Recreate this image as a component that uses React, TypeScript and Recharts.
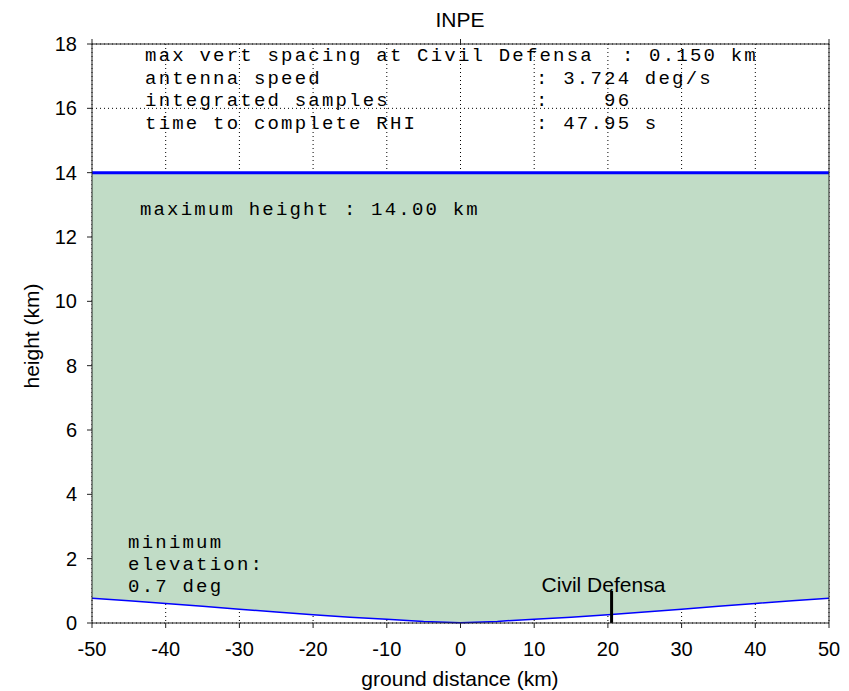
import React from 'react'
import {
  ComposedChart, Area, Line, XAxis, YAxis, CartesianGrid, ReferenceLine, ReferenceDot, Customized,
} from 'recharts'

// ground distance (km) and height of the lowest beam (km)
const distanceKm = [-50, -45, -40, -35, -30, -25, -20, -15, -10, -5, 0, 5, 10, 15, 20, 25, 30, 35, 40, 45, 50]
const minBeamKm = [0.77, 0.69, 0.61, 0.52, 0.43, 0.34, 0.26, 0.18, 0.12, 0.05, 0.01, 0.05, 0.12, 0.18, 0.26, 0.34, 0.43, 0.52, 0.61, 0.69, 0.77]
const maxHeightKm = 14
const minElevationDeg = 0.7

const xTicks = [-50, -40, -30, -20, -10, 0, 10, 20, 30, 40, 50]
const yTicks = [0, 2, 4, 6, 8, 10, 12, 14, 16, 18]

const siteName = 'Civil Defensa'
const siteKm = 20.5
const siteMarkKm = 1.0

const statLabels = ['max vert spacing at Civil Defensa', 'antenna speed', 'integrated samples', 'time to complete RHI']
const statValues = [': 0.150 km', ': 3.724 deg/s', ':    96', ': 47.95 s']

const data = distanceKm.map((x, i) => ({ x, low: minBeamKm[i], range: [minBeamKm[i], maxHeightKm] }))

const SANS = 'Liberation Sans, Arial, sans-serif'
const MONO = 'Liberation Mono, Courier New, monospace'
const FILL = '#c1dcc6'
const BLUE = '#0000ff'
const AXIS = '#222'

const monoStyle: React.CSSProperties = { whiteSpace: 'pre' }

// text anchored at a data point (via ReferenceDot shape)
function txt(text: string, opts: { mono?: boolean; anchor?: 'start' | 'middle' } = {}) {
  return (p: any) => (
    <text
      x={p.cx}
      y={p.cy}
      textAnchor={opts.anchor || 'start'}
      fontFamily={opts.mono ? MONO : SANS}
      fontSize={opts.mono ? 19 : 21}
      letterSpacing={opts.mono ? 2.2 : 0}
      fill="#000"
      style={monoStyle}
    >
      {text}
    </text>
  )
}

const Titles = () => (
  <g fontFamily={SANS} fontSize={21} fill="#000">
    <text x={460} y={27} textAnchor="middle">INPE</text>
    <text x={460} y={686} textAnchor="middle">ground distance (km)</text>
    <text x={0} y={0} textAnchor="middle" transform="translate(39,336) rotate(-90)">height (km)</text>
  </g>
)

export default function App() {
  const statRowKm = [17.47, 16.76, 16.07, 15.36]
  const elevLines = ['minimum', 'elevation:', `${minElevationDeg.toFixed(1)} deg`]
  const elevRowKm = [2.33, 1.65, 0.96]
  return (
    <div style={{ position: 'absolute', left: 0, top: 0, background: '#fff' }}>
      <ComposedChart width={849} height={691} data={data} margin={{ top: 38, right: 14, bottom: 0, left: 0 }}>
        <CartesianGrid
          xAxisId="bottom"
          yAxisId="left"
          stroke="#000"
          strokeDasharray="1 3"
          verticalValues={xTicks}
          horizontalValues={yTicks}
        />
        <XAxis
          xAxisId="bottom" dataKey="x" type="number" domain={[-50, 50]} ticks={xTicks}
          height={68} tickSize={5} tickMargin={14}
          stroke={AXIS} tick={{ fill: '#000', fontFamily: SANS, fontSize: 20 }}
        />
        <XAxis
          xAxisId="top" orientation="top" type="number" domain={[-50, 50]} ticks={xTicks}
          height={6} tickSize={5} tickFormatter={() => ''} stroke={AXIS}
        />
        <YAxis
          yAxisId="left" type="number" domain={[0, 18]} ticks={yTicks} width={92}
          tickSize={5} tickMargin={10} interval={0}
          stroke={AXIS} tick={{ fill: '#000', fontFamily: SANS, fontSize: 20 }}
        />
        <YAxis
          yAxisId="right" orientation="right" type="number" domain={[0, 18]} ticks={yTicks} width={6}
          tickSize={5} tickFormatter={() => ''} stroke={AXIS}
        />
        <Area
          xAxisId="bottom" yAxisId="left" dataKey="range" type="linear"
          fill={FILL} fillOpacity={1} stroke="none" isAnimationActive={false}
        />
        <Line
          xAxisId="bottom" yAxisId="left" dataKey="low" type="linear"
          stroke={BLUE} strokeWidth={1.5} dot={false} isAnimationActive={false}
        />
        <ReferenceLine xAxisId="bottom" yAxisId="left" y={maxHeightKm} stroke={BLUE} strokeWidth={3} />
        <ReferenceLine
          xAxisId="bottom" yAxisId="left"
          segment={[{ x: siteKm, y: 0 }, { x: siteKm, y: siteMarkKm }]}
          stroke="#000" strokeWidth={3}
        />
        <ReferenceDot xAxisId="bottom" yAxisId="left" x={19.4} y={0.96} r={0} shape={txt(siteName, { anchor: 'middle' })} />
        <ReferenceDot
          xAxisId="bottom" yAxisId="left" x={-43.5} y={12.68} r={0}
          shape={txt(`maximum height : ${maxHeightKm.toFixed(2)} km`, { mono: true })}
        />
        {elevLines.map((s, i) => (
          <ReferenceDot key={s} xAxisId="bottom" yAxisId="left" x={-45.1} y={elevRowKm[i]} r={0} shape={txt(s, { mono: true })} />
        ))}
        {statLabels.map((s, i) => (
          <ReferenceDot key={s} xAxisId="bottom" yAxisId="left" x={-42.8} y={statRowKm[i]} r={0} shape={txt(s, { mono: true })} />
        ))}
        {statValues.map((s, i) => (
          <ReferenceDot
            key={s} xAxisId="bottom" yAxisId="left" x={i === 0 ? 21.9 : 10.25} y={statRowKm[i]} r={0}
            shape={txt(s, { mono: true })}
          />
        ))}
        <Customized component={Titles} />
      </ComposedChart>
    </div>
  )
}
